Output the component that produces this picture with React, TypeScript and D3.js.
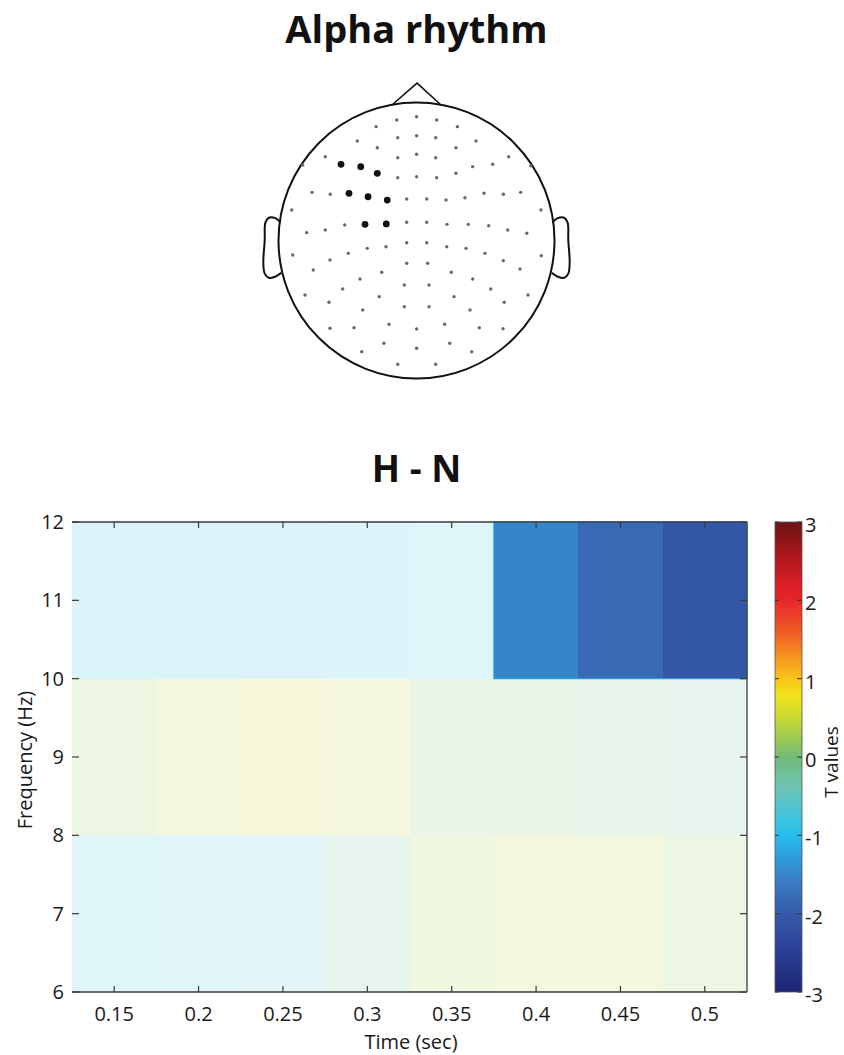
import React from "react";
import * as d3 from "d3";

// ---------- Heatmap data (T values, H - N) ----------
const times = [0.15, 0.2, 0.25, 0.3, 0.35, 0.4, 0.45, 0.5];
const freqs = [7, 9, 11];
const tValues7Hz = [-0.8, -0.75, -0.6, -0.2, 0.3, 0.45, 0.4, 0.2];
const tValues9Hz = [0.2, 0.4, 0.6, 0.5, 0.1, 0.05, -0.05, -0.2];
const tValues11Hz = [-1.05, -1.05, -1.0, -0.95, -0.8, -1.5, -1.8, -2.05];
const sig7Hz = [0, 0, 0, 0, 0, 0, 0, 0];
const sig9Hz = [0, 0, 0, 0, 0, 0, 0, 0];
const sig11Hz = [0, 0, 0, 0, 0, 1, 1, 1];

const xTicks = [0.15, 0.2, 0.25, 0.3, 0.35, 0.4, 0.45, 0.5];
const yTicks = [6, 7, 8, 9, 10, 11, 12];
const cbTicks = [-3, -2, -1, 0, 1, 2, 3];

// colormap stops (T value -> colour)
const cmapT = [-3, -2.5, -2, -1.6, -1.3, -1.0, -0.8, -0.4, 0, 0.2, 0.5, 0.8, 1.0, 1.3, 1.6, 2.0, 2.2, 2.6, 3];
const cmapC = ["#1d2573", "#2b3f95", "#3559a8", "#3a7bc3", "#2e9ad8", "#27bdec", "#3ec3df", "#6ec4b7", "#72bb7a", "#95c757", "#cbd934", "#f2e31b", "#f9c31a", "#f5901f", "#ef5a25", "#e8262a", "#db1f26", "#a8161b", "#6b1414"];

// ---------- Electrode layout (head-radius units, y down) ----------
const elecX = [-0.143, 0.001, -0.293, -0.136, 0.001, -0.429, -0.284, -0.136, 0.001, -0.661, -0.547, -0.404, -0.284, -0.136, 0.001, -0.825, -0.757, -0.625, -0.489, -0.351, -0.212, -0.071, -0.904, -0.796, -0.661, -0.520, -0.373, -0.219, -0.071, -0.071,
  0.146, 0.296, 0.139, 0.431, 0.286, 0.139, 0.668, 0.552, 0.407, 0.286, 0.146, 0.828, 0.755, 0.629, 0.489, 0.351, 0.214, 0.074, 0.902, 0.074, 0.221, 0.375, 0.523, 0.661, 0.799, 0.074,
  -0.897, -0.627, -0.494, -0.357, -0.221, -0.748, -0.071, -0.252, -0.409, -0.088, -0.535, -0.808, -0.634, -0.270, -0.390, -0.088, -0.627, -0.453, -0.199, 0.001, -0.236, 0.001, -0.397, -0.136,
  0.219, 0.359, 0.496, 0.629, 0.750, 0.904, 0.081, 0.252, 0.407, 0.091, 0.538, 0.808, 0.272, 0.636, 0.091, 0.388, 0.204, 0.455, 0.627, 0.241, 0.400, 0.139];
const elecY = [-0.873, -0.897, -0.825, -0.745, -0.759, -0.721, -0.672, -0.600, -0.625, -0.607, -0.552, -0.535, -0.487, -0.455, -0.462, -0.547, -0.349, -0.335, -0.342, -0.317, -0.293, -0.301, -0.221, -0.057, -0.076, -0.112, -0.117, -0.120, -0.132, 0.016,
  -0.873, -0.825, -0.745, -0.721, -0.672, -0.600, -0.607, -0.552, -0.535, -0.487, -0.455, -0.542, -0.349, -0.335, -0.342, -0.310, -0.293, -0.301, -0.221, -0.132, -0.117, -0.117, -0.107, -0.076, -0.052, 0.016,
  0.105, 0.141, 0.093, 0.057, 0.045, 0.214, 0.165, 0.230, 0.279, 0.322, 0.351, 0.395, 0.448, 0.407, 0.504, 0.480, 0.636, 0.632, 0.607, 0.641, 0.745, 0.781, 0.806, 0.897,
  0.045, 0.057, 0.093, 0.146, 0.207, 0.110, 0.165, 0.230, 0.279, 0.322, 0.351, 0.395, 0.407, 0.448, 0.480, 0.504, 0.607, 0.632, 0.639, 0.745, 0.806, 0.897];
const sigElectrodes = [10, 11, 12, 18, 19, 20, 26, 27];

// head outline shapes (head-radius units)
const noseX = [-0.17, 0.004, 0.17];
const noseY = [-0.989, -1.14, -0.989];
const earX = [0.985, 1.02, 1.07, 1.095, 1.1, 1.11, 1.1, 1.07, 1.03, 0.98];
const earY = [-0.13, -0.16, -0.165, -0.13, 0.0, 0.16, 0.24, 0.27, 0.265, 0.235];

const W = 844;
const H = 1055;
const FONT = "'Open Sans', 'Noto Sans', sans-serif";

export default function App() {
  // heatmap geometry
  const x = d3.scaleLinear().domain([0.125, 0.525]).range([72, 747]);
  const y = d3.scaleLinear().domain([6, 12]).range([992, 522]);
  const cmap = d3.scaleLinear<string>().domain(cmapT).range(cmapC).interpolate(d3.interpolateRgb).clamp(true);
  const cbY = d3.scaleLinear().domain([-3, 3]).range([992, 522]);
  const cbX0 = 775, cbX1 = 802;

  const rows = [tValues7Hz, tValues9Hz, tValues11Hz];
  const sigs = [sig7Hz, sig9Hz, sig11Hz];
  const cells: { t: number; f: number; v: number; s: number }[] = [];
  freqs.forEach((f, fi) => times.forEach((t, ti) => cells.push({ t, f, v: rows[fi][ti], s: sigs[fi][ti] })));
  const dt = 0.025, df = 1;
  const sigCells = cells.filter(c => c.s);
  const sx0 = d3.min(sigCells, c => x(c.t - dt))!;
  const sx1 = d3.max(sigCells, c => x(c.t + dt))!;
  const sy0 = d3.min(sigCells, c => y(c.f + df))!;
  const sy1 = d3.max(sigCells, c => y(c.f - df))!;

  // head geometry
  const hcx = 416.5, hcy = 240.5, hr = 138;
  const hx = d3.scaleLinear().domain([-1, 1]).range([hcx - hr, hcx + hr]);
  const hy = d3.scaleLinear().domain([-1, 1]).range([hcy - hr, hcy + hr]);
  const line = d3.line<[number, number]>().curve(d3.curveCatmullRom.alpha(0.5));
  const nose = d3.line<[number, number]>()(noseX.map((v, i) => [hx(v), hy(noseY[i])]));
  const earR = line(earX.map((v, i) => [hx(v), hy(earY[i])]));
  const earL = line(earX.map((v, i) => [hx(-v), hy(earY[i])]));

  const gradStops = d3.range(0, 61).map(i => {
    const v = -3 + i * 0.1;
    return { off: (i / 60) * 100, c: cmap(v) };
  });

  const fmt = (v: number) => String(+v.toFixed(2));

  return (
    <svg width={W} height={H} style={{ position: "absolute", left: 0, top: 0, background: "#fff" }} fontFamily={FONT}>
      <defs>
        <linearGradient id="cbgrad" x1="0" y1="1" x2="0" y2="0">
          {gradStops.map((s, i) => <stop key={i} offset={`${s.off}%`} stopColor={s.c} />)}
        </linearGradient>
      </defs>
      <rect x={0} y={0} width={W} height={H} fill="#fff" />

      {/* Titles */}
      <text x={416.5} y={43} textAnchor="middle" fontSize={38} fontWeight={700} fill="#111">Alpha rhythm</text>
      <text x={416.5} y={482} textAnchor="middle" fontSize={37} fontWeight={700} fill="#111">H - N</text>

      {/* Head */}
      <g fill="none" stroke="#111" strokeWidth={2}>
        <circle cx={hcx} cy={hcy} r={hr} />
        <path d={nose!} strokeWidth={1.6} />
        <path d={earR!} />
        <path d={earL!} />
      </g>
      <g>
        {elecX.map((ex, i) => {
          const big = sigElectrodes.includes(i);
          return big ? null : <circle key={i} cx={hx(ex)} cy={hy(elecY[i])} r={1.7} fill="#6a6a6a" />;
        })}
        {sigElectrodes.map(i => <circle key={"s" + i} cx={hx(elecX[i])} cy={hy(elecY[i])} r={3.4} fill="#111" />)}
      </g>

      {/* Heatmap cells */}
      <g shapeRendering="crispEdges">
        {cells.map((c, i) => (
          <rect key={i} x={x(c.t - dt)} y={y(c.f + df)} width={x(c.t + dt) - x(c.t - dt)} height={y(c.f - df) - y(c.f + df)}
            fill={cmap(c.v)} fillOpacity={c.s ? 1 : 0.17} />
        ))}
      </g>
      {sigCells.length > 0 && (
        <rect x={sx0} y={sy0} width={sx1 - sx0} height={sy1 - sy0} fill="none" stroke="#2aa3e0" strokeWidth={1.2} />
      )}

      {/* Axes box (top, right, bottom) */}
      <g stroke="#3a3a3a" strokeWidth={1.3} fill="none">
        <line x1={72} x2={747} y1={522} y2={522} />
        <line x1={747} x2={747} y1={522} y2={992} />
        <line x1={72} x2={747} y1={992} y2={992} />
      </g>
      {/* ticks */}
      <g stroke="#3a3a3a" strokeWidth={1.2}>
        {xTicks.map(t => (
          <g key={t}>
            <line x1={x(t)} x2={x(t)} y1={992} y2={986} />
            <line x1={x(t)} x2={x(t)} y1={522} y2={528} />
          </g>
        ))}
        {yTicks.map(v => (
          <g key={v}>
            <line x1={72} x2={79} y1={y(v)} y2={y(v)} />
            <line x1={747} x2={740} y1={y(v)} y2={y(v)} />
          </g>
        ))}
      </g>
      <g fontSize={20} fill="#1a1a1a">
        {xTicks.map(t => (
          <text key={t} x={x(t)} y={1021} textAnchor="middle">{fmt(t)}</text>
        ))}
        {yTicks.map(v => (
          <text key={v} x={64} y={y(v)} dy="0.35em" textAnchor="end">{v}</text>
        ))}
        <text x={411} y={1049} textAnchor="middle">Time (sec)</text>
        <text transform={`translate(32,760) rotate(-90)`} textAnchor="middle">Frequency (Hz)</text>
      </g>

      {/* Colour bar */}
      <rect x={cbX0} y={cbY(3)} width={cbX1 - cbX0} height={cbY(-3) - cbY(3)} fill="url(#cbgrad)" stroke="#555" strokeWidth={0.8} />
      <g stroke="#333" strokeWidth={1}>
        {cbTicks.map(v => (
          <g key={v}>
            <line x1={cbX1} x2={cbX1 - 5} y1={cbY(v)} y2={cbY(v)} />
            <line x1={cbX0} x2={cbX0 + 4} y1={cbY(v)} y2={cbY(v)} />
          </g>
        ))}
      </g>
      <g fontSize={20} fill="#1a1a1a">
        {cbTicks.map(v => (
          <text key={v} x={805} y={cbY(v) + 3} dy="0.35em">{v}</text>
        ))}
        <text transform={`translate(838,762) rotate(-90)`} textAnchor="middle" fontSize={19}>T values</text>
      </g>
    </svg>
  );
}
